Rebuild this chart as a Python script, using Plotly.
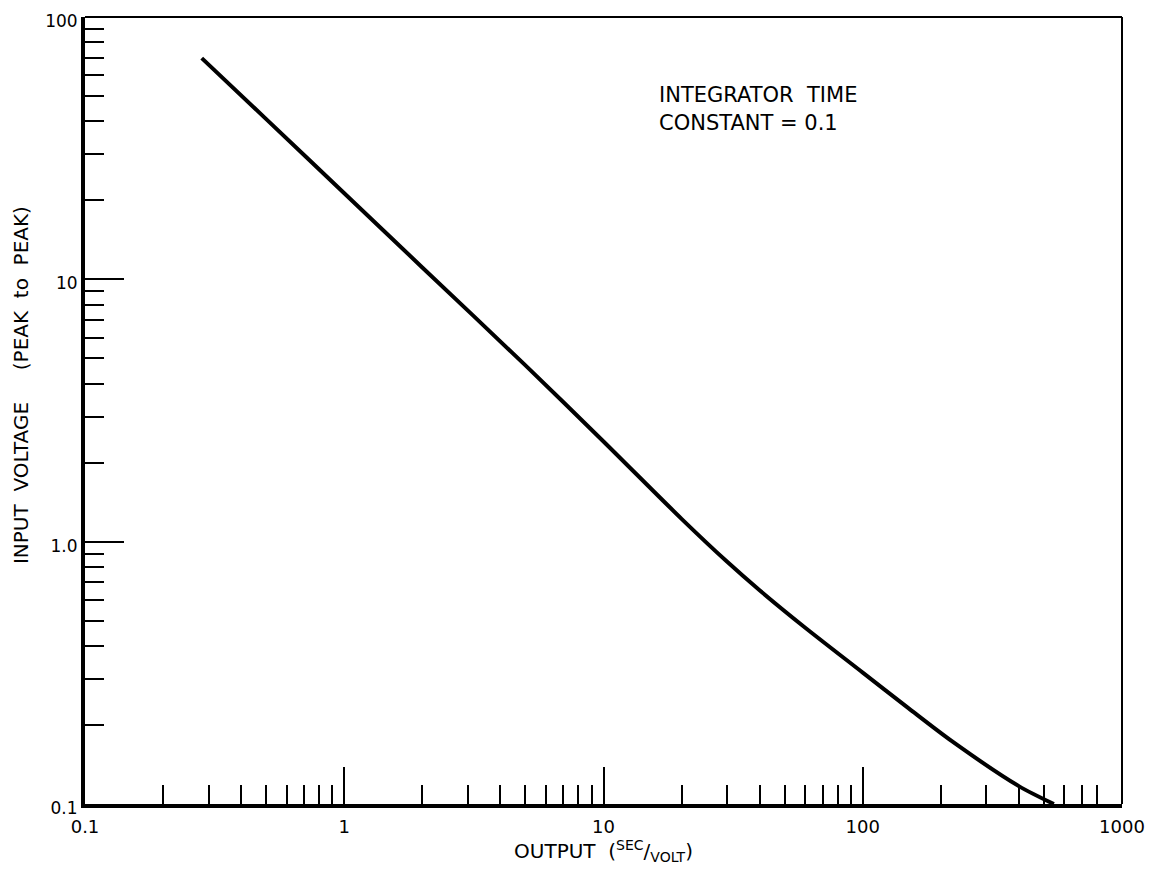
import plotly.graph_objects as go

# Data
output_sec_per_volt = [0.282, 0.5, 1.0, 2.0, 5.0, 10.0, 20.0, 30.0, 40.0, 60.0, 100.0, 150.0, 220.0, 400.0, 546.0]
input_voltage_pp = [69.7, 40.8, 21.3, 11.1, 4.70, 2.41, 1.222, 0.838, 0.653, 0.470, 0.317, 0.232, 0.174, 0.117, 0.1]

x_major_vals = [0.1, 1, 10, 100, 1000]
x_major_text = ["0.1", "1", "10", "100", "1000"]
y_major_vals = [0.1, 1, 10, 100]
y_major_text = ["0.1", "1.0", "10", "100"]

x_minor_vals = [m * d for d in (0.1, 1, 10) for m in range(2, 10)] + [200, 300, 400, 500, 600, 700, 800]
y_minor_vals = [m * d for d in (0.1, 1, 10) for m in range(2, 10)]

FONT = "DejaVu Sans"

fig = go.Figure()
fig.add_trace(go.Scatter(
    x=output_sec_per_volt, y=input_voltage_pp, mode="lines",
    line=dict(color="black", width=4, shape="spline", smoothing=0.8),
    showlegend=False, hoverinfo="skip",
))

# page body has an 8px margin: size the figure so the plot lands where the reference has it
fig.update_layout(
    width=1153, height=869,
    margin=dict(l=77, r=39, t=9, b=73),
    paper_bgcolor="white", plot_bgcolor="white",
    font=dict(family=FONT, color="black", size=18),
    showlegend=False,
)

fig.update_xaxes(
    type="log", range=[-1, 3], automargin=False,
    showgrid=False, zeroline=False,
    showline=True, linewidth=4, linecolor="black", mirror=False,
    tickmode="array", tickvals=x_major_vals, ticktext=x_major_text,
    ticks="inside", ticklen=37, tickwidth=2, tickcolor="black",
    ticklabelstandoff=3, ticklabeloverflow="allow",
    tickfont=dict(family=FONT, size=18),
    minor=dict(tickvals=x_minor_vals, ticks="inside", ticklen=19, tickwidth=2,
               tickcolor="black", showgrid=False),
    title=dict(text="OUTPUT  (<sup>SEC</sup>/<sub>VOLT</sub>)", font=dict(family=FONT, size=20),
               standoff=3),
)
fig.update_yaxes(
    type="log", range=[-1, 2], automargin=False,
    showgrid=False, zeroline=False,
    showline=True, linewidth=4, linecolor="black", mirror=False,
    tickmode="array", tickvals=y_major_vals, ticktext=y_major_text,
    ticks="inside", ticklen=39, tickwidth=2, tickcolor="black",
    ticklabeloverflow="allow", ticklabelshift=4,
    tickfont=dict(family=FONT, size=17),
    minor=dict(tickvals=y_minor_vals, ticks="inside", ticklen=19, tickwidth=2,
               tickcolor="black", showgrid=False),
)

# y-axis title (placed slightly above centre, as in the reference)
fig.add_annotation(text="INPUT  VOLTAGE     (PEAK  to  PEAK)", xref="paper", yref="paper",
                   x=-0.061, y=0.532, xanchor="center", yanchor="middle", textangle=-90,
                   showarrow=False, font=dict(family=FONT, size=20))

# thin top and right frame lines
fig.add_shape(type="line", xref="paper", yref="paper", x0=0, x1=1, y0=1, y1=1,
              line=dict(color="black", width=2))
fig.add_shape(type="line", xref="paper", yref="paper", x0=1, x1=1, y0=0, y1=1,
              line=dict(color="black", width=2))

fig.add_annotation(text="INTEGRATOR  TIME", xref="paper", yref="paper",
                   x=0.5516, y=0.901, xanchor="left", yanchor="middle", showarrow=False,
                   font=dict(family=FONT, size=21))
fig.add_annotation(text="CONSTANT = 0.1", xref="paper", yref="paper",
                   x=0.5516, y=0.865, xanchor="left", yanchor="middle", showarrow=False,
                   font=dict(family=FONT, size=21))

fig.write_html("out.html")
